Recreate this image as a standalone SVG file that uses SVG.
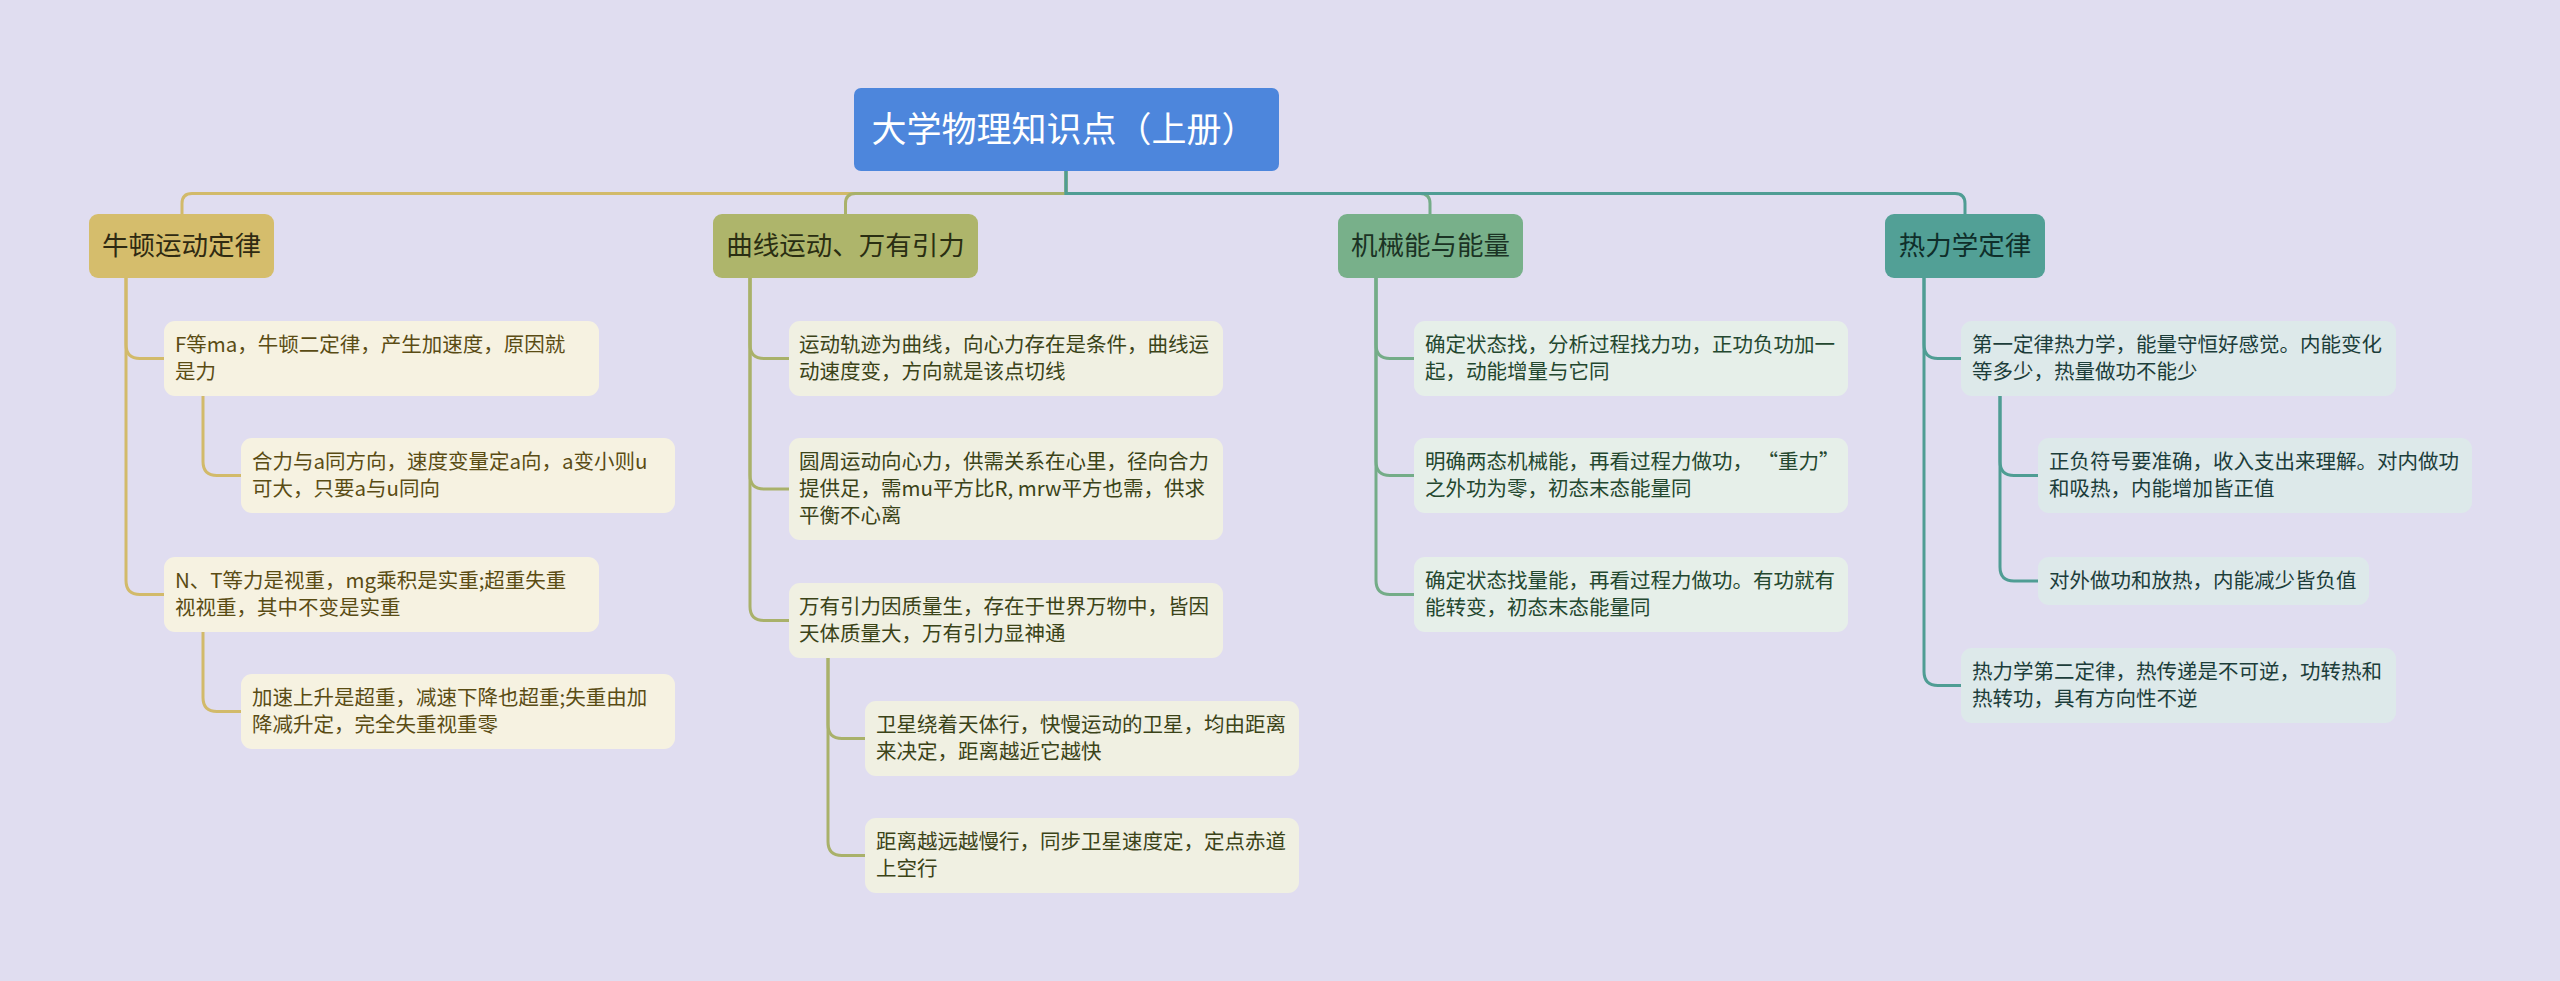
<svg xmlns="http://www.w3.org/2000/svg" width="2560" height="981" viewBox="0 0 2560 981">
<style>
text{font-family:"Noto Sans CJK SC","Noto Sans",sans-serif}
.root-t{font-size:35px;fill:#ffffff}
.br-t{font-size:26.5px}
.t{font-size:20.5px}
.c{fill:none;stroke-width:3;stroke-linecap:round}
.y{stroke:#d2ba6a}.o{stroke:#a9b16a}.g{stroke:#74ac88}.b{stroke:#4f9d94}
.by{fill:#f6f2e1}.bo{fill:#f0f0e2}.bg{fill:#e6efe9}.bb{fill:#dde9ea}
.ty{fill:#5a4c14}.to{fill:#3b4318}.tg{fill:#24472f}.tb{fill:#1c3d3a}
</style>
<rect width="2560" height="981" fill="#e0ddf0"/>
<g id="connectors">
<path class="c y" d="M1066 170 V193.5 H192 Q182 193.5 182 203.5 V214"/>
<path class="c o" d="M1066 170 V193.5 H855.5 Q845.5 193.5 845.5 203.5 V214"/>
<path class="c g" d="M1066 170 V193.5 H1420 Q1430 193.5 1430 203.5 V214"/>
<path class="c b" d="M1066 170 V193.5 H1955 Q1965 193.5 1965 203.5 V214"/>
<path class="c y" d="M126 278 V344.5 Q126 358.5 140 358.5 H164"/>
<path class="c y" d="M126 278 V580.5 Q126 594.5 140 594.5 H164"/>
<path class="c y" d="M203 396 V461.5 Q203 475.5 217 475.5 H241"/>
<path class="c y" d="M203 632 V697.5 Q203 711.5 217 711.5 H241"/>
<path class="c o" d="M750 278 V344.5 Q750 358.5 764 358.5 H789"/>
<path class="c o" d="M750 278 V475 Q750 489 764 489 H789"/>
<path class="c o" d="M750 278 V606.5 Q750 620.5 764 620.5 H789"/>
<path class="c o" d="M828 658 V724.5 Q828 738.5 842 738.5 H865"/>
<path class="c o" d="M828 658 V841.5 Q828 855.5 842 855.5 H865"/>
<path class="c g" d="M1376 278 V344.5 Q1376 358.5 1390 358.5 H1414"/>
<path class="c g" d="M1376 278 V461.5 Q1376 475.5 1390 475.5 H1414"/>
<path class="c g" d="M1376 278 V580.5 Q1376 594.5 1390 594.5 H1414"/>
<path class="c b" d="M1924 278 V344.5 Q1924 358.5 1938 358.5 H1961"/>
<path class="c b" d="M1924 278 V671.5 Q1924 685.5 1938 685.5 H1961"/>
<path class="c b" d="M2000 396 V461.5 Q2000 475.5 2014 475.5 H2038"/>
<path class="c b" d="M2000 396 V567 Q2000 581 2014 581 H2038"/>
</g>
<g id="root">
<rect x="854" y="88" width="425" height="83" rx="7" fill="#4d86dc"/>
<text class="root-t" x="1064" y="142" text-anchor="middle">大学物理知识点（上册）</text>
</g>
<g id="b1">
<rect x="89" y="214" width="185" height="64" rx="9" fill="#d5bd6c"/>
<text class="br-t" x="181.5" y="255" text-anchor="middle" fill="#2f2a12">牛顿运动定律</text>
</g>
<g id="b2">
<rect x="713" y="214" width="265" height="64" rx="9" fill="#aeb56b"/>
<text class="br-t" x="845.5" y="255" text-anchor="middle" fill="#2a2e12">曲线运动、万有引力</text>
</g>
<g id="b3">
<rect x="1338" y="214" width="185" height="64" rx="9" fill="#78b08a"/>
<text class="br-t" x="1430.5" y="255" text-anchor="middle" fill="#1b3324">机械能与能量</text>
</g>
<g id="b4">
<rect x="1885" y="214" width="160" height="64" rx="9" fill="#52a096"/>
<text class="br-t" x="1965" y="255" text-anchor="middle" fill="#0f2e2a">热力学定律</text>
</g>
<g id="n-a">
<rect class="by" x="164" y="321" width="435" height="75" rx="11"/>
<text class="t ty" x="175"><tspan x="175" y="352">F等ma，牛顿二定律，产生加速度，原因就</tspan><tspan x="175" y="379">是力</tspan></text>
</g>
<g id="n-a1">
<rect class="by" x="241" y="438" width="434" height="75" rx="11"/>
<text class="t ty"><tspan x="252" y="469">合力与a同方向，速度变量定a向，a变小则u</tspan><tspan x="252" y="496">可大，只要a与u同向</tspan></text>
</g>
<g id="n-b">
<rect class="by" x="164" y="557" width="435" height="75" rx="11"/>
<text class="t ty"><tspan x="175" y="588">N、T等力是视重，mg乘积是实重;超重失重</tspan><tspan x="175" y="615">视视重，其中不变是实重</tspan></text>
</g>
<g id="n-b1">
<rect class="by" x="241" y="674" width="434" height="75" rx="11"/>
<text class="t ty"><tspan x="252" y="705">加速上升是超重，减速下降也超重;失重由加</tspan><tspan x="252" y="732">降减升定，完全失重视重零</tspan></text>
</g>
<g id="n-c">
<rect class="bo" x="789" y="321" width="434" height="75" rx="11"/>
<text class="t to"><tspan x="799" y="352">运动轨迹为曲线，向心力存在是条件，曲线运</tspan><tspan x="799" y="379">动速度变，方向就是该点切线</tspan></text>
</g>
<g id="n-d">
<rect class="bo" x="789" y="438" width="434" height="102" rx="11"/>
<text class="t to"><tspan x="799" y="469">圆周运动向心力，供需关系在心里，径向合力</tspan><tspan x="799" y="496">提供足，需mu平方比R, mrw平方也需，供求</tspan><tspan x="799" y="523">平衡不心离</tspan></text>
</g>
<g id="n-e">
<rect class="bo" x="789" y="583" width="434" height="75" rx="11"/>
<text class="t to"><tspan x="799" y="614">万有引力因质量生，存在于世界万物中，皆因</tspan><tspan x="799" y="641">天体质量大，万有引力显神通</tspan></text>
</g>
<g id="n-e1">
<rect class="bo" x="865" y="701" width="434" height="75" rx="11"/>
<text class="t to"><tspan x="876" y="732">卫星绕着天体行，快慢运动的卫星，均由距离</tspan><tspan x="876" y="759">来决定，距离越近它越快</tspan></text>
</g>
<g id="n-e2">
<rect class="bo" x="865" y="818" width="434" height="75" rx="11"/>
<text class="t to"><tspan x="876" y="849">距离越远越慢行，同步卫星速度定，定点赤道</tspan><tspan x="876" y="876">上空行</tspan></text>
</g>
<g id="n-f">
<rect class="bg" x="1414" y="321" width="434" height="75" rx="11"/>
<text class="t tg"><tspan x="1425" y="352">确定状态找，分析过程找力功，正功负功加一</tspan><tspan x="1425" y="379">起，动能增量与它同</tspan></text>
</g>
<g id="n-g">
<rect class="bg" x="1414" y="438" width="434" height="75" rx="11"/>
<text class="t tg" xml:space="preserve"><tspan x="1425" y="469">明确两态机械能，再看过程力做功， “重力”</tspan><tspan x="1425" y="496">之外功为零，初态末态能量同</tspan></text>
</g>
<g id="n-h">
<rect class="bg" x="1414" y="557" width="434" height="75" rx="11"/>
<text class="t tg"><tspan x="1425" y="588">确定状态找量能，再看过程力做功。有功就有</tspan><tspan x="1425" y="615">能转变，初态末态能量同</tspan></text>
</g>
<g id="n-i">
<rect class="bb" x="1961" y="321" width="435" height="75" rx="11"/>
<text class="t tb"><tspan x="1972" y="352">第一定律热力学，能量守恒好感觉。内能变化</tspan><tspan x="1972" y="379">等多少，热量做功不能少</tspan></text>
</g>
<g id="n-i1">
<rect class="bb" x="2038" y="438" width="434" height="75" rx="11"/>
<text class="t tb"><tspan x="2049" y="469">正负符号要准确，收入支出来理解。对内做功</tspan><tspan x="2049" y="496">和吸热，内能增加皆正值</tspan></text>
</g>
<g id="n-i2">
<rect class="bb" x="2038" y="557" width="331" height="48" rx="11"/>
<text class="t tb"><tspan x="2049" y="588">对外做功和放热，内能减少皆负值</tspan></text>
</g>
<g id="n-j">
<rect class="bb" x="1961" y="648" width="435" height="75" rx="11"/>
<text class="t tb"><tspan x="1972" y="679">热力学第二定律，热传递是不可逆，功转热和</tspan><tspan x="1972" y="706">热转功，具有方向性不逆</tspan></text>
</g>
</svg>
